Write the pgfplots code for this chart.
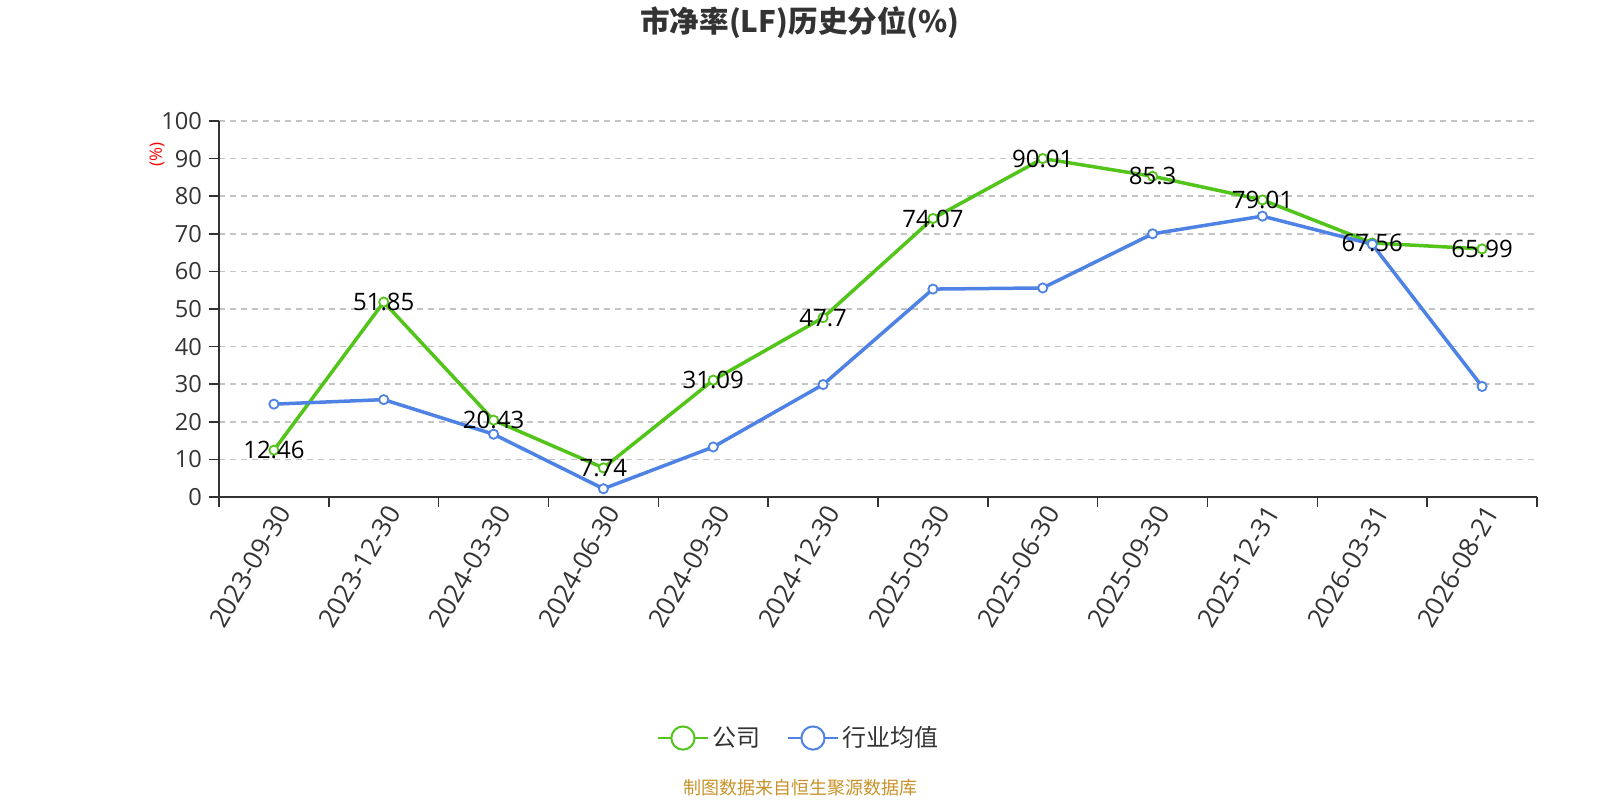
\documentclass[border=0pt]{standalone}
\usepackage{pgfplots}
\pgfplotsset{compat=1.18}
\usepackage{fontspec}
\setmainfont{Open Sans}
\newfontfamily\cjk{Noto Sans CJK SC}
\definecolor{cgreen}{HTML}{52C41A}
\definecolor{cblue}{HTML}{4E82E4}
\definecolor{ctext}{HTML}{333333}
\definecolor{cgrid}{HTML}{C4C4C4}
\definecolor{csrc}{HTML}{C8922A}
\begin{document}
\begin{tikzpicture}
\path[use as bounding box] (0,0) rectangle (800pt,400pt);
\node[font=\cjk\bfseries\fontsize{14.8}{17}\selectfont, text=ctext] at (400pt,388.5pt) {市净率(LF)历史分位(\%)};
\node[font=\cjk\fontsize{9}{11}\selectfont, text=csrc] at (400pt,6pt) {制图数据来自恒生聚源数据库};
\begin{axis}[
  at={(109.5pt,151.5pt)}, anchor=south west,
  scale only axis, width=659pt, height=188pt,
  xmin=-0.5, xmax=11.5, ymin=0, ymax=100,
  clip=false,
  axis lines=left, axis line style={-, ctext, line width=0.8pt},
  tick align=outside,
  major tick length=5pt,
  tick style={ctext, line width=0.8pt},
  ytick={0,10,...,100},
  xtick={-0.5,0.5,1.5,2.5,3.5,4.5,5.5,6.5,7.5,8.5,9.5,10.5,11.5},
  xticklabels={},
  extra x ticks={0,1,2,3,4,5,6,7,8,9,10,11},
  extra x tick labels={2023-09-30,2023-12-30,2024-03-30,2024-06-30,2024-09-30,2024-12-30,2025-03-30,2025-06-30,2025-09-30,2025-12-31,2026-03-31,2026-08-21},
  extra x tick style={major tick length=0pt, grid=none, tick label style={rotate=60, anchor=east, inner sep=1pt, yshift=-7pt, xshift=-1pt, font=\fontsize{13}{15}\selectfont}},
  ymajorgrids,
  grid style={cgrid, line width=0.8pt, dash pattern=on 3pt off 2.5pt},
  tick label style={font=\fontsize{11.8}{13}\selectfont, text=ctext},
  /pgf/number format/assume math mode=true,
  ylabel={(\%)},
  ylabel style={at={(axis description cs:-0.047,0.91)}, anchor=center, rotate=0, font=\fontsize{8.5}{10}\selectfont, text=red},
  legend style={at={(axis description cs:0.4408,-0.641)}, anchor=center, draw=none, fill=none,
    font=\cjk\fontsize{12}{13}\selectfont, text=ctext,
    /tikz/every even column/.append style={column sep=11pt}},
  legend columns=2,
]
\addplot[cgreen, line width=1.75pt, mark=*, mark size=2.3pt, mark options={fill=white, line width=0.9pt},
  legend image code/.code={\draw[cgreen, line width=1pt] (0pt,0pt) -- (25pt,0pt); \draw[cgreen, fill=white, line width=1pt] (12.5pt,0pt) circle (5.8pt);}]
coordinates {(0,12.46) (1,51.85) (2,20.43) (3,7.74) (4,31.09) (5,47.7) (6,74.07) (7,90.01) (8,85.3) (9,79.01) (10,67.56) (11,65.99)};
\addlegendentry{公司}
\addplot[cblue, line width=1.75pt, mark=*, mark size=2.3pt, mark options={fill=white, line width=0.9pt},
  legend image code/.code={\draw[cblue, line width=1pt] (0pt,0pt) -- (25pt,0pt); \draw[cblue, fill=white, line width=1pt] (12.5pt,0pt) circle (5.8pt);}]
coordinates {(0,24.7) (1,25.9) (2,16.7) (3,2.2) (4,13.3) (5,29.9) (6,55.3) (7,55.6) (8,70.0) (9,74.7) (10,67.2) (11,29.4)};
\addlegendentry{行业均值}
\addplot[draw=none, mark=none, forget plot, point meta=explicit symbolic,
  nodes near coords, every node near coord/.append style={anchor=center, font=\fontsize{12}{13}\selectfont, text=black, inner sep=0pt}]
coordinates {(0,12.46) [12.46] (1,51.85) [51.85] (2,20.43) [20.43] (3,7.74) [7.74] (4,31.09) [31.09] (5,47.7) [47.7] (6,74.07) [74.07] (7,90.01) [90.01] (8,85.3) [85.3] (9,79.01) [79.01] (10,67.56) [67.56] (11,65.99) [65.99]};
\end{axis}
\end{tikzpicture}
\end{document}
